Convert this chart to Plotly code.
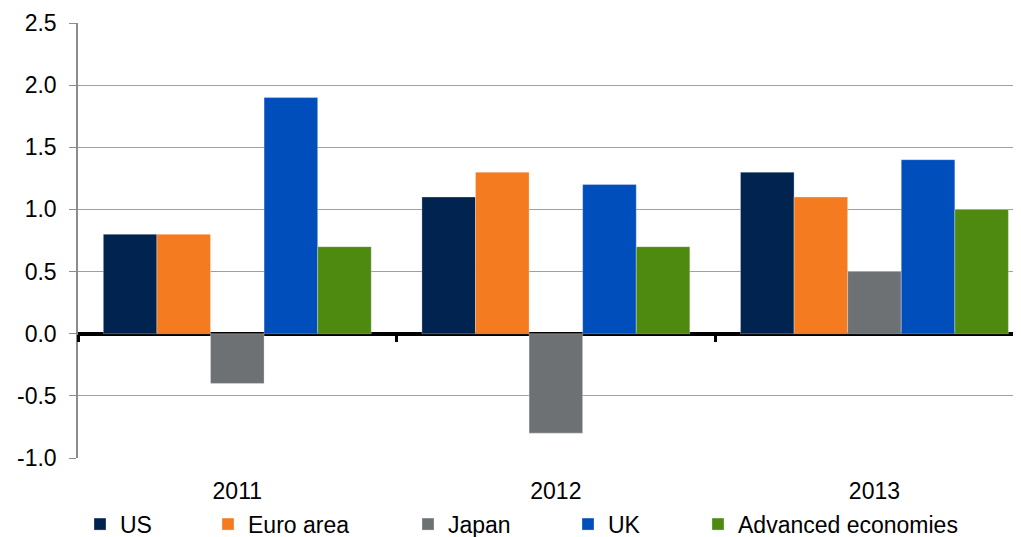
import plotly.graph_objects as go

years = ["2011", "2012", "2013"]
us = [0.8, 1.1, 1.3]
euro_area = [0.8, 1.3, 1.1]
japan = [-0.4, -0.8, 0.5]
uk = [1.9, 1.2, 1.4]
advanced = [0.7, 0.7, 1.0]

series = [
    ("US", us, "#00234F"),
    ("Euro area", euro_area, "#F47B20"),
    ("Japan", japan, "#6D7173"),
    ("UK", uk, "#004EBB"),
    ("Advanced economies", advanced, "#4E8A0F"),
]

y_ticks = [-1.0, -0.5, 0.0, 0.5, 1.0, 1.5, 2.0, 2.5]

FONT = "Liberation Sans, Arial, sans-serif"
FS = 23
# the page body adds an 8px offset, so the figure is made 8px smaller
PAGE_OFF = 8
plot_left, plot_right = 78, 1021

fig = go.Figure()

# one legend per series so each key can sit where the original puts it
legend_px = [80, 208, 408, 568, 698]
for i, (name, vals, color) in enumerate(series):
    lg = "legend" if i == 0 else f"legend{i + 1}"
    fig.add_trace(
        go.Bar(
            x=years,
            y=vals,
            name=name,
            marker=dict(color=color, line=dict(color="rgba(255,255,255,0.5)", width=0.6)),
            legend=lg,
        )
    )

# invisible trace so the baseline tick axis gets drawn
fig.add_trace(
    go.Scatter(
        x=[0], y=[0], xaxis="x2", mode="markers",
        marker=dict(opacity=0), showlegend=False, hoverinfo="skip",
    )
)

legends = {}
for i, px in enumerate(legend_px):
    key = "legend" if i == 0 else f"legend{i + 1}"
    legends[key] = dict(
        x=(px - plot_left) / (plot_right - plot_left),
        y=-0.152,
        xanchor="left",
        yanchor="middle",
        orientation="h",
        font=dict(family=FONT, size=FS, color="black"),
        bgcolor="rgba(0,0,0,0)",
        itemwidth=30,
    )

fig.update_layout(
    width=1021 - PAGE_OFF,
    height=537 - PAGE_OFF,
    margin=dict(l=plot_left - PAGE_OFF, r=0, t=23 - PAGE_OFF, b=79, autoexpand=False),
    paper_bgcolor="white",
    plot_bgcolor="white",
    barmode="group",
    bargap=0.159,
    bargroupgap=0,
    font=dict(family=FONT, size=FS, color="black"),
    showlegend=True,
    xaxis=dict(
        type="category",
        range=[-0.5, 2.46],
        showgrid=False,
        showline=False,
        ticks="",
        automargin=False,
        ticklabelstandoff=17,
        tickfont=dict(size=FS, color="black"),
    ),
    # axis that carries the black baseline ticks at the category boundaries
    xaxis2=dict(
        type="linear",
        overlaying="x",
        anchor="free",
        position=1.0 / 3.5,
        range=[-0.5, 2.46],
        tickmode="array",
        tickvals=[-0.5, 0.5, 1.5],
        showticklabels=False,
        ticks="outside",
        ticklen=7,
        tickwidth=3,
        tickcolor="black",
        showline=False,
        showgrid=False,
        zeroline=False,
        automargin=False,
    ),
    yaxis=dict(
        range=[-1.0, 2.5],
        tickmode="array",
        tickvals=y_ticks,
        ticktext=[f"{v:.1f}" for v in y_ticks],
        showgrid=True,
        gridcolor="#A0A0A0",
        gridwidth=1.3,
        showline=True,
        linecolor="#8C8C8C",
        linewidth=1.5,
        ticks="outside",
        ticklen=7,
        tickcolor="#8C8C8C",
        tickwidth=1.3,
        ticklabelstandoff=8,
        zeroline=True,
        zerolinecolor="black",
        zerolinewidth=3.5,
        automargin=False,
        tickfont=dict(size=FS, color="black"),
    ),
    **legends,
)

fig.write_html("out.html")
